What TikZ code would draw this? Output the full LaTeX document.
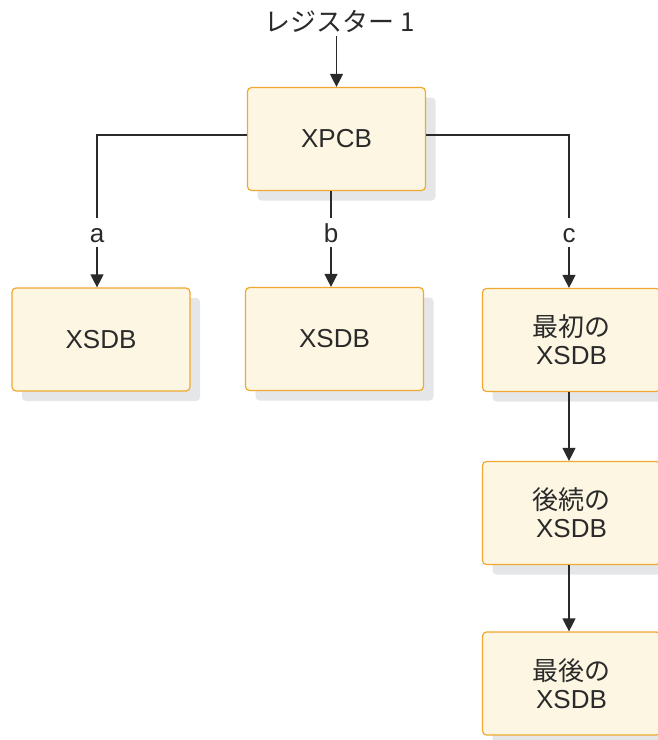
\documentclass[tikz,border=0pt]{standalone}
\usepackage{fontspec}
\setmainfont{Liberation Sans}
\newfontfamily\jp{Noto Sans CJK JP}
\usetikzlibrary{arrows.meta,shadows}
\definecolor{boxfill}{HTML}{FDF6E3}
\definecolor{boxedge}{HTML}{F0A830}
\definecolor{shade}{HTML}{E5E6E8}
\definecolor{ink}{HTML}{2A2A2A}
\begin{document}
\begin{tikzpicture}[x=1pt,y=-1pt,
 box/.style={draw=boxedge, fill=boxfill, line width=1.2pt, rounded corners=4pt,
   minimum width=178pt, minimum height=103pt, align=center,
   font=\fontsize{26}{28}\selectfont, text=ink,
   drop shadow={shadow xshift=10pt, shadow yshift=-10pt, fill=shade, opacity=1}},
 conn/.style={draw=ink, line width=1.2pt},
 arr/.style={conn, -{Triangle[length=13pt,width=13pt]}},
 lab/.style={font=\fontsize{26}{29}\selectfont, text=ink, inner xsep=2pt, inner ysep=5pt,
   text height=19pt, text depth=0pt, anchor=base}]
\useasboundingbox (0,0) rectangle (657,740);
% boxes
\node[box] (xpcb) at (336.5,139) {XPCB};
\node[box] (a) at (101,339.5) {XSDB};
\node[box] (b) at (334.5,339) {XSDB};
\node[box] (c) at (571.5,340) {{\jp 最初の}\\XSDB};
\node[box] (d) at (571.5,513) {{\jp 後続の}\\XSDB};
\node[box] (e) at (571.5,683.5) {{\jp 最後の}\\XSDB};
% labels
\node[lab, font=\jp\fontsize{26}{29}\selectfont] (reg) at (340,31) {レジスター 1};
\node[lab] (la) at (97,242) {a};
\node[lab] (lb) at (331,242) {b};
\node[lab] (lc) at (569,242) {c};
% connectors
\draw[arr] (xpcb.north |- reg.south) -- (xpcb.north);
\draw[conn] ([yshift=4pt]xpcb.west) -| (la.north);
\draw[arr] (la.south) -- (la.south |- a.north);
\draw[conn] (xpcb.south -| lb.north) -- (lb.north);
\draw[arr] (lb.south) -- (lb.south |- b.north);
\draw[conn] ([yshift=4pt]xpcb.east) -| (lc.north);
\draw[arr] (lc.south) -- (lc.south |- c.north);
\draw[arr] (c.south -| lc.south) -- (d.north -| lc.south);
\draw[arr] (d.south -| lc.south) -- (e.north -| lc.south);
\end{tikzpicture}
\end{document}
